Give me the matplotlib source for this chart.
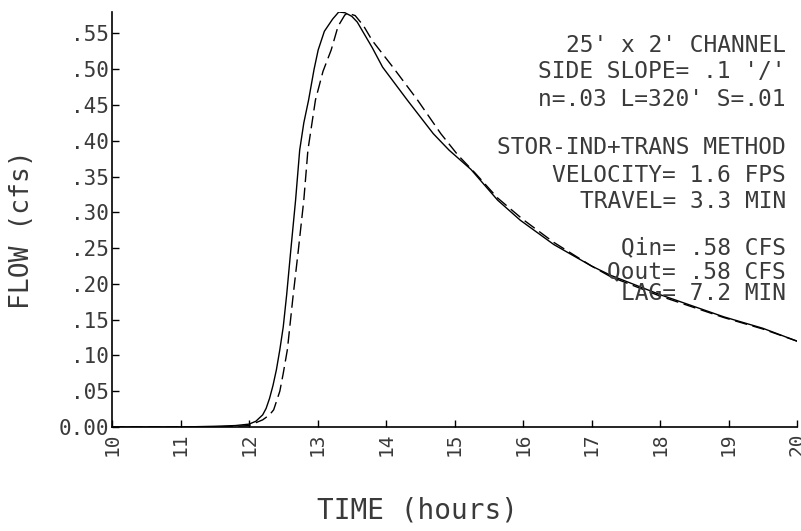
import numpy as np
import matplotlib
matplotlib.use("Agg")
import matplotlib.pyplot as plt

# inflow hydrograph (solid)
t_in = [10.0, 11.0, 11.5, 11.8, 12.0, 12.1, 12.2, 12.25, 12.3, 12.35, 12.4, 12.45,
        12.5, 12.55, 12.61, 12.68, 12.74, 12.8, 12.87, 12.95, 13.01, 13.1, 13.22,
        13.31, 13.4, 13.5, 13.58, 13.8, 13.95, 14.31, 14.69, 14.92, 15.24, 15.63,
        15.96, 16.45, 17.0, 17.28, 18.0, 18.93, 19.5, 20.0]
q_in = [0.0, 0.0, 0.001, 0.002, 0.004, 0.008, 0.017, 0.026, 0.04, 0.058, 0.08, 0.108,
        0.14, 0.185, 0.247, 0.317, 0.387, 0.425, 0.457, 0.5, 0.527, 0.553, 0.57,
        0.58, 0.579, 0.574, 0.566, 0.53, 0.503, 0.457, 0.41, 0.387, 0.36, 0.317,
        0.289, 0.255, 0.225, 0.212, 0.185, 0.154, 0.138, 0.12]

# routed outflow (dashed)
t_out = [10.0, 11.0, 11.5, 11.8, 12.0, 12.2, 12.3, 12.36, 12.45, 12.5, 12.56, 12.64,
         12.72, 12.8, 12.86, 12.97, 13.08, 13.2, 13.3, 13.4, 13.45, 13.55, 13.67,
         13.8, 14.1, 14.46, 14.8, 15.05, 15.3, 15.63, 16.0, 16.45, 17.0, 17.28,
         18.0, 18.93, 19.5, 20.0]
q_out = [0.0, 0.0, 0.0, 0.001, 0.002, 0.01, 0.017, 0.024, 0.05, 0.075, 0.108, 0.18,
         0.247, 0.317, 0.387, 0.457, 0.497, 0.527, 0.56, 0.576, 0.578, 0.575, 0.561,
         0.54, 0.503, 0.457, 0.41, 0.38, 0.355, 0.32, 0.29, 0.258, 0.225, 0.21,
         0.183, 0.153, 0.137, 0.12]

yticks = [0.0, 0.05, 0.10, 0.15, 0.20, 0.25, 0.30, 0.35, 0.40, 0.45, 0.50, 0.55]
ylabels = ["0.00", ".05", ".10", ".15", ".20", ".25", ".30", ".35", ".40", ".45", ".50", ".55"]
xticks = list(range(10, 21))

notes = [
    ("25' x 2' CHANNEL", 46),
    ("SIDE SLOPE= .1 '/'", 72),
    ("n=.03 L=320' S=.01", 99),
    ("STOR-IND+TRANS METHOD", 148),
    ("VELOCITY= 1.6 FPS", 175),
    ("TRAVEL= 3.3 MIN", 202),
    ("Qin= .58 CFS", 248),
    ("Qout= .58 CFS", 272),
    ("LAG= 7.2 MIN", 293),
]

font = "DejaVu Sans Mono"
ink = "#3a3a3a"
W, H = 801, 531

fig = plt.figure(figsize=(W / 100, H / 100), dpi=100)
ax = fig.add_axes([112 / W, 1 - 427 / H, (797 - 112) / W, (427 - 12) / H])

ax.plot(t_in, q_in, color="black", lw=1.0)
ax.plot(t_out, q_out, color="black", lw=1.0, dashes=(9, 4))

ax.set_xlim(10, 20)
ax.set_ylim(0, 0.58)
ax.spines["top"].set_visible(False)
ax.spines["right"].set_visible(False)
ax.spines["left"].set_linewidth(1.2)
ax.spines["bottom"].set_linewidth(1.2)

ax.set_yticks(yticks)
ax.set_yticklabels(ylabels, fontfamily=font, fontsize=15, color=ink)
ax.set_xticks(xticks)
ax.set_xticklabels([str(x) for x in xticks], rotation=90, fontfamily=font,
                   fontsize=14, color=ink)
ax.tick_params(axis="both", direction="in", length=5, width=1)
ax.tick_params(axis="y", pad=2)
ax.tick_params(axis="x", pad=4)

fig.text(22 / W, 1 - 230 / H, "FLOW (cfs)", rotation=90, ha="center", va="center",
         fontfamily=font, fontsize=19, color=ink)
fig.text(417 / W, 1 - 510 / H, "TIME (hours)", ha="center", va="center",
         fontfamily=font, fontsize=20, color=ink)

for s, ypix in notes:
    fig.text(786 / W, 1 - ypix / H, s, ha="right", va="center",
             fontfamily=font, fontsize=16.5, color=ink)

fig.savefig("out.png", dpi=100)
